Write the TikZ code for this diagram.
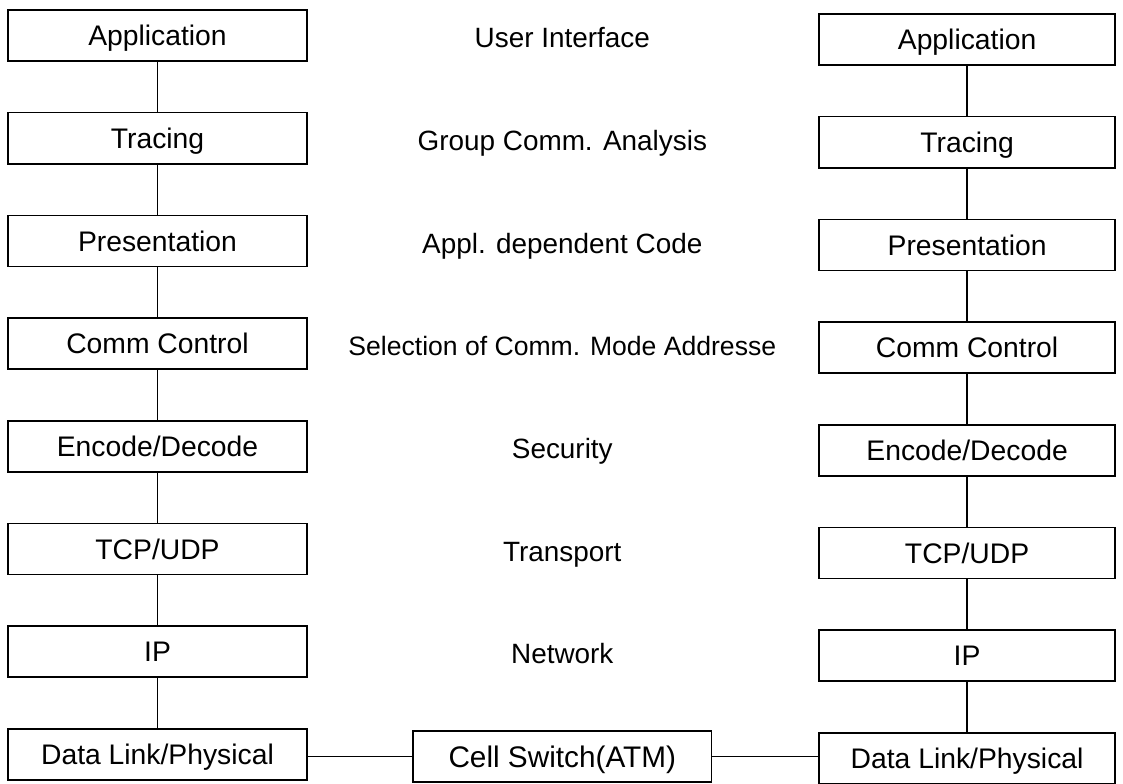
\documentclass[tikz,border=0pt]{standalone}
\usepackage{fontspec}
\setmainfont{Liberation Sans}
\usepackage{tikz}
\usetikzlibrary{positioning,calc}
\tikzset{
  layer/.style={rectangle, draw, line width=1.2pt, align=center, minimum width=7.9cm, minimum height=1.35cm, inner sep=0pt, text height=15.4pt, text depth=0pt, font=\fontsize{21.3}{25}\selectfont},
  rlayer/.style={layer, minimum width=7.83cm},
  role/.style={align=center, inner sep=0pt, text height=15.2pt, text depth=0pt, font=\fontsize{21}{25}\selectfont},
  line/.style={line width=0.9pt}
}

\begin{document}
\begin{tikzpicture}[node distance=1.325cm]
  \useasboundingbox (0,0) rectangle (29.71,-20.72);
  % left stack
  \node[layer] (app1) at (4.167,-0.939) {Application};
  \node[layer, below=of app1] (trace1) {Tracing};
  \node[layer, below=of trace1] (pres1) {Presentation};
  \node[layer, below=of pres1] (ctrl1) {Comm Control};
  \node[layer, below=of ctrl1] (enc1) {Encode/Decode};
  \node[layer, below=of enc1] (tcp1) {TCP/UDP};
  \node[layer, below=of tcp1] (ip1) {IP};
  \node[layer, below=of ip1] (dl1) {Data Link/Physical};
  % right stack
  \node[rlayer] (app2) at (25.585,-1.045) {Application};
  \node[rlayer, below=of app2] (trace2) {Tracing};
  \node[rlayer, below=of trace2] (pres2) {Presentation};
  \node[rlayer, below=of pres2] (ctrl2) {Comm Control};
  \node[rlayer, below=of ctrl2] (enc2) {Encode/Decode};
  \node[rlayer, below=of enc2] (tcp2) {TCP/UDP};
  \node[rlayer, below=of tcp2] (ip2) {IP};
  \node[rlayer, below=of ip2] (dl2) {Data Link/Physical};
  % middle column
  \node[role] (ui) at ($(app1)!0.5!(app2)$) {User Interface};
  \node[role] (group) at ($(trace1)!0.5!(trace2)$) {Group Comm. Analysis};
  \node[role] (code) at ($(pres1)!0.5!(pres2)$) {Appl. dependent Code};
  \node[role, text height=14.5pt, font=\fontsize{20}{24}\selectfont] (mode) at ($(ctrl1)!0.5!(ctrl2)$) {Selection of Comm. Mode Addresse};
  \node[role] (sec) at ($(enc1)!0.5!(enc2)$) {Security};
  \node[role] (trans) at ($(tcp1)!0.5!(tcp2)$) {Transport};
  \node[role] (net) at ($(ip1)!0.5!(ip2)$) {Network};
  \node[layer, font=\fontsize{22.4}{26}\selectfont, text height=16.2pt] (cell) at ($(dl1)!0.5!(dl2)$) {Cell Switch(ATM)};
  % links
  \draw[line] (app1) -- (trace1);
  \draw[line] (trace1) -- (pres1);
  \draw[line] (pres1) -- (ctrl1);
  \draw[line] (ctrl1) -- (enc1);
  \draw[line] (enc1) -- (tcp1);
  \draw[line] (tcp1) -- (ip1);
  \draw[line] (ip1) -- (dl1);
  \draw[line] (app2) -- (trace2);
  \draw[line] (trace2) -- (pres2);
  \draw[line] (pres2) -- (ctrl2);
  \draw[line] (ctrl2) -- (enc2);
  \draw[line] (enc2) -- (tcp2);
  \draw[line] (tcp2) -- (ip2);
  \draw[line] (ip2) -- (dl2);
  \draw[line] (cell.west) -- (cell.west -| dl1.east);
  \draw[line] (cell.east) -- (cell.east -| dl2.west);
\end{tikzpicture}
\end{document}
